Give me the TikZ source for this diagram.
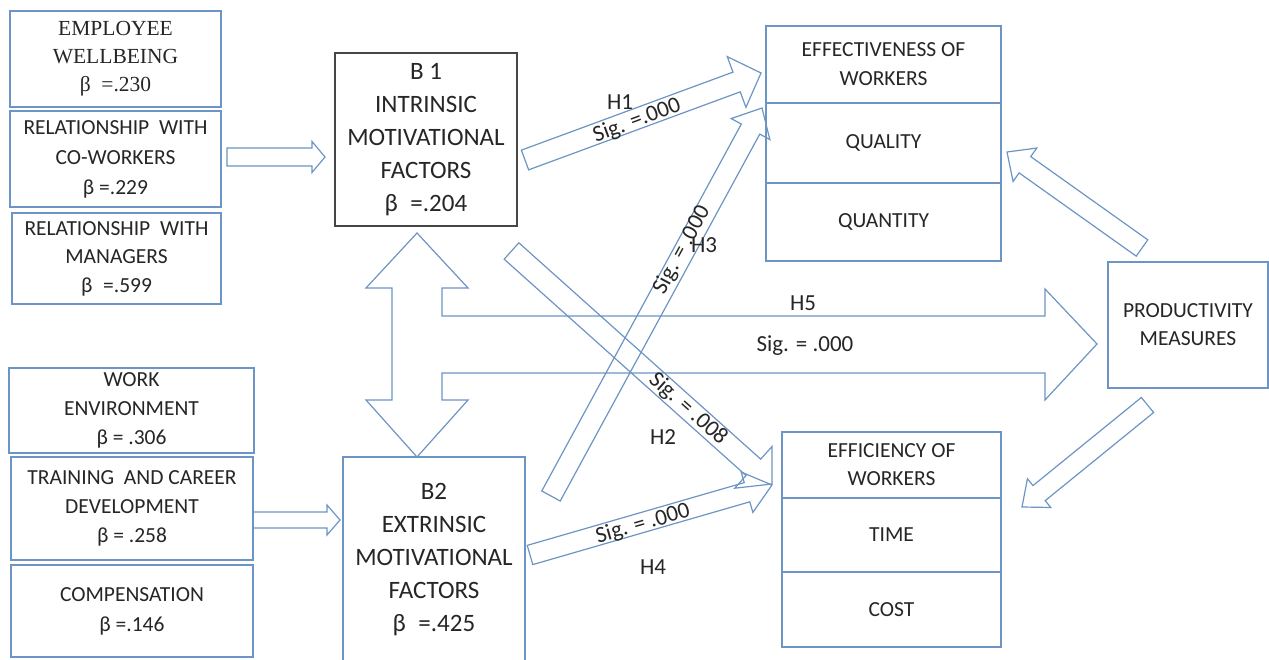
\documentclass[tikz,border=0pt]{standalone}
\usepackage{fontspec}
\setmainfont{Carlito}
\newfontfamily\timesfont{Liberation Serif}
\usetikzlibrary{calc}

\definecolor{boxblue}{RGB}{108,148,196}
\definecolor{inkgray}{RGB}{38,38,38}
\definecolor{framegray}{RGB}{70,70,70}

\tikzset{
  box/.style={draw=boxblue, line width=1.3pt, fill=white, inner sep=0pt,
              align=center, text=inkgray},
  dims/.style 2 args={minimum width=#1pt, minimum height=#2pt},
  txt/.style={font=\fontsize{21.5}{#1}\selectfont},
  arrowline/.style={draw=boxblue, line width=1.2pt, line join=miter},
  lbl/.style={text=inkgray, font=\fontsize{23}{27}\selectfont, inner sep=0pt},
}

% hollow block arrow: start, tip, half shaft width, half head width, head length
\newcommand\blockarrow[5]{%
  \coordinate (ba-h) at ($(#2)!#5pt!(#1)$);
  \draw[arrowline] ($(#1)!#3pt!90:(#2)$) -- ($(ba-h)!#3pt!90:(#2)$)
    -- ($(ba-h)!#4pt!90:(#2)$) -- (#2) -- ($(ba-h)!#4pt!-90:(#2)$)
    -- ($(ba-h)!#3pt!-90:(#2)$) -- ($(#1)!#3pt!-90:(#2)$) -- cycle;
}

\begin{document}
\begin{tikzpicture}[x=1pt, y=-1pt]
\useasboundingbox (0,0) rectangle (1269,660);
\clip (0,0) rectangle (1269,660);

% intrinsic factors
\node[box, dims={211}{96}, font=\timesfont\fontsize{21.5}{28}\selectfont] (ew) at (115.5,59)
  {EMPLOYEE\\WELLBEING\\ β \ =.230};
\node[box, dims={211}{96}, txt=30] (rc) at (115.5,159)
  {RELATIONSHIP\ \ WITH\\CO-WORKERS\\β =.229};
\node[box, dims={209}{91}, txt=28.5] (rm) at (116.5,258.5)
  {RELATIONSHIP\ \ WITH\\MANAGERS\\β\enspace=.599};

% extrinsic factors
\node[box, dims={245}{85}, txt=29] (we) at (131.5,410.5)
  {WORK\\ENVIRONMENT\\β = .306};
\node[box, dims={242}{103}, txt=29] (tr) at (132,508.5)
  {TRAINING\ \ AND CAREER\\DEVELOPMENT\\β = .258};
\node[box, dims={242}{92}, txt=30] (cp) at (132,611)
  {COMPENSATION\\β =.146};

% motivational factor groups
\node[box, draw=framegray, dims={182}{173}, font=\fontsize{25}{33}\selectfont] (b1) at (426,139.5)
  {B 1\\INTRINSIC\\MOTIVATIONAL\\FACTORS\\β\enspace=.204};
\node[box, dims={182}{205}, font=\fontsize{25}{33}\selectfont] (b2) at (434,559.5)
  {B2\\EXTRINSIC\\MOTIVATIONAL\\FACTORS\\β\enspace=.425};

% effectiveness
\node[box, dims={235}{77}, txt=29] (effh) at (883.5,64.5) {EFFECTIVENESS OF\\WORKERS};
\node[box, dims={235}{80}, txt=29] (effq) at (883.5,143) {QUALITY};
\node[box, dims={235}{78}, txt=29] (effn) at (883.5,222) {QUANTITY};

% efficiency
\node[box, dims={219}{66}, txt=28] (ecyh) at (891.5,465) {EFFICIENCY OF\\WORKERS};
\node[box, dims={219}{74}, txt=28] (ecyt) at (891.5,535) {TIME};
\node[box, dims={219}{75}, txt=28] (ecyc) at (891.5,609.5) {COST};

% productivity
\node[box, dims={160}{126}, txt=28] (prod) at (1188,325) {PRODUCTIVITY\\MEASURES};

% arrow end points
\coordinate (a1s) at (227,157);   \coordinate (a1e) at (325,157);
\coordinate (a2s) at (253,520);   \coordinate (a2e) at (340,520);
\coordinate (h1s) at (525,160);   \coordinate (h1e) at (761,73);
\coordinate (h3s) at (551,496);   \coordinate (h3e) at (762,108);
\coordinate (h2s) at (511.5,251); \coordinate (h2e) at (772,484);
\coordinate (h4s) at (530,555);   \coordinate (h4e) at (772,485);
\coordinate (pqs) at (1142,248);  \coordinate (pqe) at (1007,152);
\coordinate (pes) at (1147.5,405);\coordinate (pee) at (1022,507);
\coordinate (dtop) at (417,233);  \coordinate (dbot) at (417,457);
\coordinate (h5e) at (1097,344);

\blockarrow{a1s}{a1e}{9}{15.5}{13}
\blockarrow{a2s}{a2e}{8}{15}{13}
\blockarrow{h1s}{h1e}{10.5}{27}{26}
\blockarrow{h3s}{h3e}{10.5}{22}{24}
\blockarrow{h2s}{h2e}{11}{28}{25}
\blockarrow{h4s}{h4e}{10}{21}{26}
\blockarrow{pqs}{pqe}{10}{20.5}{22}
\blockarrow{pes}{pee}{9.7}{18.5}{22}

% two-way arrow between the groups, joined with the H5 arrow
\draw[arrowline] (dtop) -- (468,288) -- (442,288) -- (442,316) -- (1045,316)
  -- (1045,289) -- (h5e) -- (1045,400) -- (1045,373) -- (442,373)
  -- (442,400) -- (468,400) -- (dbot) -- (366,400) -- (392,400)
  -- (392,288) -- (366,288) -- cycle;

% hypothesis labels
\node[lbl] (lh1) at (620,102) {H1};
\node[lbl, rotate=20.4] (sh1) at (637,121) {Sig. =.000};
\node[lbl] (lh3) at (704,245) {H3};
\node[lbl, rotate=61.5] (sh3) at (682,250) {Sig. = .000};
\node[lbl] (lh2) at (663,437) {H2};
\node[lbl, rotate=-41.7] (sh2) at (688,409) {Sig. = .008};
\node[lbl] (lh4) at (653,567) {H4};
\node[lbl, rotate=16] (sh4) at (643,524) {Sig. = .000};
\node[lbl] (lh5) at (803,303) {H5};
\node[lbl] (sh5) at (805,346) {Sig. = .000};
\end{tikzpicture}
\end{document}
